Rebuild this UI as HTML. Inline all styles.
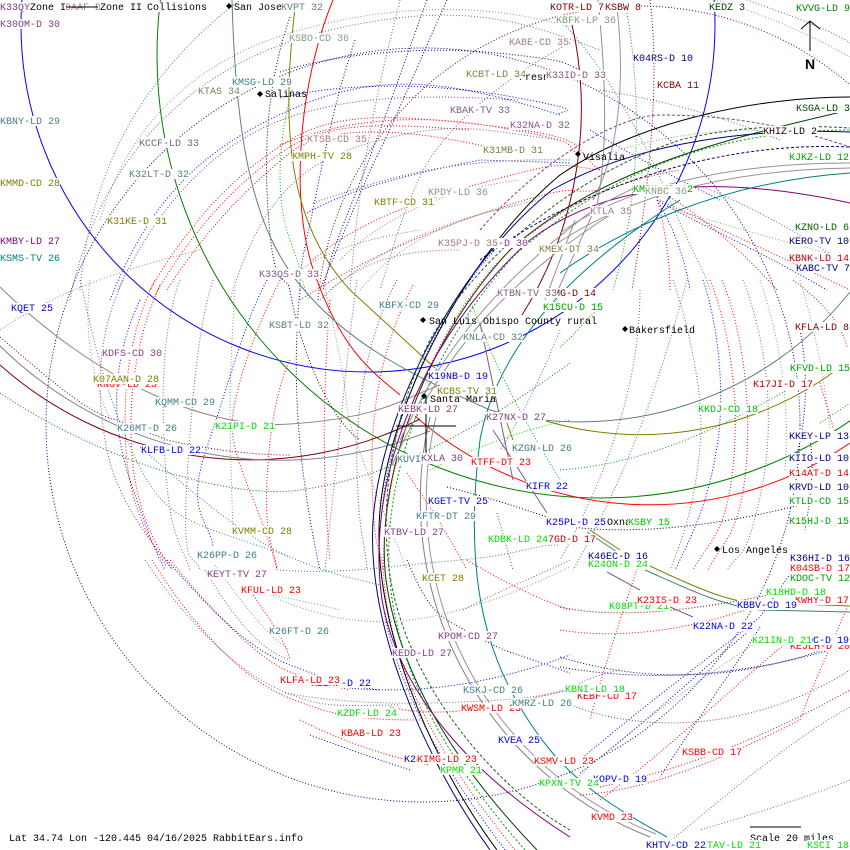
<!DOCTYPE html>
<html><head><meta charset="utf-8"><style>
html,body{margin:0;padding:0;background:#fff;}
svg{display:block;}
text{font-family:"Liberation Mono",monospace;font-size:10px;}
.d{fill:none;stroke-dasharray:1 2;stroke-width:1}
.s{fill:none;stroke-width:1}
rect.b{fill:#fff}
</style></head><body>
<svg width="850" height="850" viewBox="0 0 850 850" xmlns="http://www.w3.org/2000/svg">
<rect width="850" height="850" fill="#fff"/>

<circle cx="423" cy="425" r="377" class="d" stroke="#00007f"/>
<path class="d" stroke="#7f0000" d="M318,300 A322,322 0 0 1 850,85"/>

<path class="d" stroke="#3f7f7f" d="M80,290 Q95,110 240,0"/>
<path class="d" stroke="#7f5f7f" d="M70,300 C100,150 200,60 330,30 S520,20 600,50"/>
<path class="d" stroke="#7f9f7f" d="M100,220 C130,120 200,60 290,33 S480,0 570,27"/>
<path class="d" stroke="#0000ff" d="M110,300 C150,200 200,150 290,110 S450,80 560,115"/>
<path class="d" stroke="#7f3f7f" d="M118,290 C160,200 220,140 290,117 S430,95 520,100"/>
<path class="d" stroke="#ff0000" d="M150,290 C190,220 240,170 290,140 S400,115 500,127 S570,150 600,170"/>
<path class="d" stroke="#ff0000" d="M155,295 C195,225 245,175 290,147 S400,125 470,130"/>
<path class="d" stroke="#ff0000" d="M167,290 C205,230 250,185 290,153 S420,130 500,150"/>
<path class="d" stroke="#000" d="M290,17 C275,60 262,120 268,210 S285,270 290,290 C300,350 330,420 360,440"/>
<path class="d" stroke="#00c000" d="M292,90 C278,140 275,200 290,240 S300,280 310,300"/>
<path class="d" stroke="#7f5f7f" d="M230,300 C260,200 300,160 380,140 S480,130 560,140"/>
<path class="d" stroke="#9f7f7f" d="M0,330 C60,290 120,270 200,250"/>
<path class="d" stroke="#7f9f7f" d="M360,290 C400,240 460,215 540,200"/>
<path class="d" stroke="#9f7f7f" d="M340,260 C380,220 440,190 520,180"/>
<path class="d" stroke="#7f5f7f" d="M400,0 C380,80 360,160 350,290"/>

<path class="d" stroke="#00007f" d="M427,0 C405,60 385,120 357,190 S330,260 323,290"/>
<path class="d" stroke="#00007f" d="M447,0 C420,60 395,120 380,150 S345,230 320,290"/>
<path class="d" stroke="#00007f" d="M355,40 C335,100 325,150 315,200 S300,260 300,290"/>
<path class="d" stroke="#7f5f7f" d="M570,43 C500,80 440,130 417,183 S390,260 380,290"/>
<path class="d" stroke="#ff0000" d="M313,260 C360,220 420,200 493,180 S560,165 600,170"/>
<path class="d" stroke="#0000ff" d="M307,213 C340,195 380,180 480,160 L570,163"/>
<path class="d" stroke="#7f3f7f" d="M313,203 C380,180 447,157 570,160"/>
<path class="d" stroke="#ff0000" d="M300,300 C330,280 400,240 493,210 S560,195 600,190"/>
<path class="d" stroke="#7f9f7f" d="M330,290 C380,250 440,220 520,205"/>
<path class="d" stroke="#00007f" d="M280,72 C330,55 420,45 497,53 S560,62 580,70"/>
<path class="d" stroke="#0000ff" d="M280,98 C330,85 420,80 513,97 S550,110 560,115"/>
<path class="d" stroke="#ff0000" d="M280,145 C330,125 400,110 497,127 S560,145 580,155"/>
<path class="d" stroke="#9f7f7f" d="M300,270 C330,250 360,240 420,230"/>
<path class="d" stroke="#7f5f7f" d="M320,300 C360,260 400,250 460,250"/>

<path class="d" stroke="#7f9f7f" d="M717,0 C780,20 820,40 850,57"/>
<path class="d" stroke="#7f5f7f" d="M747,0 C790,15 830,30 850,43"/>
<path class="d" stroke="#7f0000" d="M650,0 C660,80 650,180 632,290"/>
<path class="d" stroke="#009f00" d="M627,13 C642,100 640,200 613,290"/>
<path class="d" stroke="#3f7f7f" d="M560,20 C600,60 640,130 670,200 S700,260 710,290"/>
<path class="d" stroke="#ff0000" d="M660,200 C700,220 760,247 850,290"/>
<path class="d" stroke="#0000ff" d="M657,200 C690,220 753,247 827,290"/>
<path class="d" stroke="#7f5f7f" d="M703,187 C760,210 810,240 850,267"/>
<path class="d" stroke="#ff0000" d="M670,197 C720,230 750,260 777,290"/>
<path class="d" stroke="#7f9f7f" d="M677,210 C740,230 800,245 850,260"/>
<path class="d" stroke="#ff0000" d="M657,197 C665,230 670,260 670,290"/>
<path class="d" stroke="#0000ff" d="M657,200 C675,230 685,260 690,290"/>
<path class="d" stroke="#7f5f7f" d="M600,90 C660,100 720,115 780,140"/>
<path class="d" stroke="#0000ff" d="M590,130 C640,160 680,180 720,200"/>
<path class="d" stroke="#7f9f7f" d="M590,160 C640,140 700,130 760,130"/>

<path class="d" stroke="#7f5f7f" d="M673,280 C690,330 705,400 700,447 S690,520 670,570"/>
<path class="d" stroke="#0000ff" d="M703,280 C720,330 725,400 717,447 S700,520 675,570"/>
<path class="d" stroke="#ff0000" d="M710,280 C730,330 740,400 733,467 S710,540 693,570"/>
<path class="d" stroke="#ff0000" d="M722,280 C742,330 752,400 746,467 S724,540 708,570"/>
<path class="d" stroke="#7f5f7f" d="M743,280 C770,350 775,430 760,497 S740,550 727,570"/>
<path class="d" stroke="#7f9f7f" d="M800,280 C815,330 825,380 830,430"/>
<path class="d" stroke="#3f7f7f" d="M687,280 C660,380 630,470 573,570"/>
<path class="d" stroke="#7f5f7f" d="M640,290 C640,380 610,470 560,560"/>
<path class="d" stroke="#ff0000" d="M793,280 C820,300 840,320 847,347"/>
<path class="d" stroke="#ff0000" d="M820,383 L833,427"/>
<path class="d" stroke="#009f00" d="M560,470 C630,465 700,440 787,390"/>
<path class="d" stroke="#009f00" d="M560,347 C575,335 585,320 597,310"/>
<path class="d" stroke="#009f00" d="M820,423 L850,403"/>
<path class="d" stroke="#00007f" d="M800,330 C810,380 805,430 795,460"/>
<path class="d" stroke="#0000ff" d="M810,440 C815,470 810,500 805,530"/>
<path class="d" stroke="#7f9f7f" d="M760,280 C780,340 790,400 785,470"/>

<path class="d" stroke="#0000ff" d="M140,300 C112,360 110,420 130,480 S155,550 165,570"/>
<path class="d" stroke="#ff0000" d="M155,280 C130,330 122,390 126,450 S150,540 167,567"/>
<path class="d" stroke="#ff0000" d="M160,285 C135,340 128,400 132,455 S155,545 172,570"/>
<path class="d" stroke="#7f3f7f" d="M123,280 C100,330 95,380 105,440 S150,540 173,570"/>
<path class="d" stroke="#3f7f7f" d="M80,280 C92,330 100,380 133,453 S190,520 290,557"/>
<path class="d" stroke="#7f9f7f" d="M90,280 C85,320 88,370 110,420"/>
<path class="d" stroke="#0000ff" d="M267,280 C245,320 230,380 207,447 S210,520 213,547"/>
<path class="d" stroke="#ff0000" d="M280,280 C260,320 240,370 233,413 S260,500 277,570"/>
<path class="d" stroke="#ff0000" d="M290,360 C280,380 270,420 267,480 S275,550 277,570"/>
<path class="d" stroke="#7f5f7f" d="M213,280 C200,320 193,380 187,480 S195,550 200,570"/>
<path class="d" stroke="#7f5f7f" d="M180,280 C165,320 160,380 165,460 S180,540 190,570"/>
<path class="d" stroke="#7f9f7f" d="M235,290 C232,330 230,380 230,413 S232,500 233,533"/>
<path class="d" stroke="#7f0000" d="M0,337 C50,380 90,415 117,420 L167,440 C220,452 260,455 290,455"/>
<path class="d" stroke="#007f00" d="M0,393 C100,460 230,500 300,490 S450,450 570,363"/>
<path class="d" stroke="#3f7f7f" d="M140,447 C200,500 250,540 290,557 S340,575 380,585"/>

<path class="d" stroke="#7f5f7f" d="M145,560 C185,620 235,670 280,690 S340,705 400,705"/>
<path class="d" stroke="#ff0000" d="M152,560 C195,630 245,680 287,697 S350,720 420,720"/>
<path class="d" stroke="#0000ff" d="M167,560 C210,610 250,650 290,665 S340,685 380,690"/>
<path class="d" stroke="#ff0000" d="M170,560 C220,620 260,660 290,672 S330,685 350,690"/>
<path class="d" stroke="#7f5f7f" d="M205,570 C235,620 260,650 290,660"/>
<path class="d" stroke="#7f9f7f" d="M215,565 C240,600 270,640 290,650"/>
<path class="d" stroke="#ff0000" d="M250,590 C270,620 285,640 290,660"/>
<path class="d" stroke="#7f9f7f" d="M270,595 C300,600 320,605 340,610"/>

<path class="d" stroke="#3f7f7f" d="M280,570 C340,575 400,565 460,560 S530,545 560,545"/>
<path class="d" stroke="#7f9f7f" d="M280,600 C330,620 380,630 447,613 S540,580 570,567"/>
<path class="d" stroke="#00007f" d="M407,560 C420,590 430,610 447,620 S500,650 513,653 L570,673"/>
<path class="d" stroke="#ff0000" d="M467,560 C500,580 540,600 570,610"/>
<path class="d" stroke="#7f5f7f" d="M463,610 C500,590 540,575 570,560"/>
<path class="d" stroke="#0000ff" d="M340,687 Q450,700 570,655"/>
<path class="d" stroke="#ff0000" d="M390,707 C450,722 520,700 570,690"/>
<path class="d" stroke="#7f5f7f" d="M285,693 C350,705 420,705 500,700 S570,680 620,670"/>
<path class="d" stroke="#ff0000" d="M300,720 C340,740 380,755 430,765"/>
<path class="d" stroke="#0000ff" d="M310,735 C350,750 380,760 410,770"/>
<path class="d" stroke="#ff0000" d="M407,473 C425,500 440,520 467,570"/>
<path class="d" stroke="#7f3f7f" d="M497,513 L513,570"/>
<path class="d" stroke="#000" d="M447,487 C500,500 540,515 580,528 C660,535 740,520 800,505"/>

<path class="d" stroke="#00007f" d="M560,657 Q700,700 850,640"/>
<path class="d" stroke="#00007f" d="M560,667 Q690,690 830,650"/>
<path class="d" stroke="#7f3f7f" d="M560,700 C620,730 740,740 850,670"/>
<path class="d" stroke="#7f5f7f" d="M660,850 C720,800 790,740 850,707"/>
<path class="d" stroke="#ff0000" d="M600,787 C680,770 760,740 850,690"/>
<path class="d" stroke="#ff0000" d="M580,795 C650,790 720,760 800,720"/>
<path class="d" stroke="#0000ff" d="M580,760 C650,700 720,650 760,617 L800,560"/>
<path class="d" stroke="#00007f" d="M580,773 C650,720 700,670 747,633"/>
<path class="d" stroke="#7f9f7f" d="M575,780 C640,720 700,680 760,640"/>
<path class="d" stroke="#ff0000" d="M600,800 C680,740 740,680 790,640"/>
<path class="d" stroke="#7f0000" d="M560,607 C620,620 700,610 793,590"/>
<path class="d" stroke="#ff0000" d="M560,630 C620,640 700,630 770,600"/>
<path class="d" stroke="#00007f" d="M760,627 C740,660 710,700 660,777"/>
<path class="d" stroke="#ff0000" d="M850,600 C830,650 810,690 800,720"/>
<path class="d" stroke="#7f5f7f" d="M850,780 C800,800 750,815 700,830"/>
<path class="d" stroke="#ff0000" d="M640,560 C620,620 600,680 590,720"/>

<path class="d" stroke="#7f3f7f" d="M397,280 C370,330 355,400 357,470 S365,540 367,570"/>
<path class="d" stroke="#ff0000" d="M413,285 C385,340 370,400 372,480 S380,540 383,570"/>
<path class="d" stroke="#7f9f7f" d="M323,280 C335,330 345,380 347,407 S380,500 407,570"/>
<path class="d" stroke="#7f5f7f" d="M357,280 C350,330 345,380 340,430 S330,520 325,570"/>
<path class="d" stroke="#00007f" d="M300,290 C292,370 296,460 320,570"/>
<path class="d" stroke="#ff0000" d="M330,300 C325,370 320,450 330,560"/>
<path class="d" stroke="#009f00" d="M470,300 C500,380 530,430 560,480"/>
<path class="d" stroke="#00df00" d="M430,470 C470,450 520,430 570,420"/>
<path class="d" stroke="#3f7f7f" d="M560,330 C540,380 520,420 500,450"/>

<circle cx="368" cy="25" r="347" class="s" stroke="#0000ff"/>
<circle cx="600" cy="55" r="443" class="s" stroke="#007f00"/>
<path class="s" stroke="#ff0000" d="M415,416 A355,355 0 0 0 850,443"/>
<path class="s" stroke="#5f7f7f" d="M490,410 A346,346 0 0 0 850,292"/>
<path class="s" stroke="#7f7f00" d="M520,412 A330,330 0 0 0 835,371"/>
<path class="s" stroke="#7f0000" stroke-width="1.5" d="M0,365 A376,376 0 0 0 420,419"/>
<path class="s" stroke="#7f7f9f" stroke-width="2" d="M0,346 A400,400 0 0 0 430,431"/>
<path class="s" stroke="#808080" stroke-width="2.5" d="M430,417 A362,362 0 0 0 650,837"/>
<path class="s" stroke="#9f8f9f" d="M436,417 A358,358 0 0 0 656,834"/>
<path class="s" stroke="#ff0000" d="M333,0 C300,80 288,200 315,275 S370,370 400,395"/>
<path class="s" stroke="#7f7f00" d="M295,8 C282,120 285,220 350,290 L435,368"/>
<path class="s" stroke="#5f7f7f" d="M232,0 C236,150 255,230 300,285 S400,370 490,410"/>
<path class="s" stroke="#9f7f7f" d="M0,287 C90,375 200,430 290,424 S400,400 440,385"/>
<path class="s" stroke="#7f0000" d="M572,25 C592,110 582,220 522,315"/>
<path class="s" stroke="#9f8f9f" d="M617,7 C625,80 620,150 593,200"/>

<path class="s" stroke="#003f00" d="M537,850 C460,770 400,680 386,580 C374,480 425,340 510,250 C600,170 720,140 850,110"/>
<path class="s" stroke="#009f00" stroke-dasharray="2 2" d="M525,850 C455,770 398,680 390,580 C380,480 430,345 515,255 C610,170 720,130 850,130"/>
<path class="d" stroke="#ff0000" d="M515,850 C450,770 392,680 384,580 C378,470 430,330 505,255 C560,205 620,180 680,170"/>
<path class="d" stroke="#0000ff" d="M505,850 C445,770 388,680 380,580 C372,470 420,330 495,250"/>
<path class="s" stroke="#000" d="M497,850 C430,760 370,620 380,510 C390,400 470,250 560,175 C640,120 760,97 850,97"/>
<path class="s" stroke="#00007f" d="M490,850 C425,760 362,620 374,510 C386,400 462,262 552,190 C640,140 760,128 850,132"/>
<path class="s" stroke="#7f007f" d="M570,837 C480,780 400,700 382,600 C365,480 420,340 530,240 C610,180 720,175 850,203"/>
<path class="s" stroke="#1f5f1f" stroke-width="2.5" stroke-dasharray="3 2" d="M570,830 C500,790 420,700 395,600 C375,520 390,420 430,340 C470,270 560,180 680,140 C740,125 800,125 850,128"/>
<path class="s" stroke="#7f3f7f" stroke-dasharray="3 2" d="M480,230 C540,160 620,115 660,115 C740,115 800,130 850,147"/>
<path class="s" stroke="#00007f" stroke-dasharray="3 2" d="M480,260 C560,200 700,140 850,147"/>
<path class="s" stroke="#9f8f8f" stroke-width="1.5" d="M560,233 C620,190 720,163 850,163"/>
<path class="s" stroke="#9f8f8f" stroke-width="1.5" d="M555,245 C620,200 720,170 850,168"/>
<path class="s" stroke="#007f7f" d="M560,273 C620,230 720,182 850,173"/>
<path class="s" stroke="#007f7f" d="M680,200 C600,250 500,330 480,440 C465,560 480,640 520,707 S600,800 667,837"/>

<path class="s" stroke="#8f8f8f" stroke-width="2" d="M400,440 C430,380 470,300 600,205"/>
<path class="s" stroke="#8f8f8f" stroke-width="2" d="M392,465 C440,360 500,285 610,215"/>
<path class="s" stroke="#8f8f8f" stroke-width="2" d="M598,0 C606,80 608,150 597,205"/>
<path class="s" stroke="#8f8f8f" stroke-width="2" d="M592,215 L558,290"/>
<path class="s" stroke="#8f8f8f" stroke-width="2" d="M575,220 L545,300"/>
<path class="s" stroke="#8f8f8f" stroke-width="2" d="M640,185 L600,205"/>

<path class="s" stroke="#7f5f7f" d="M480,323 L513,480"/>
<path class="s" stroke="#7f5f7f" d="M493,430 L547,513"/>
<path class="s" stroke="#7f7f00" d="M507,423 L513,440"/>
<path class="s" stroke="#3f7f7f" d="M645,570 C690,590 720,605 760,610 L850,612"/>
<path class="s" stroke="#7f7f00" d="M650,566 C690,585 720,598 745,602 L850,606"/>
<path class="s" stroke="#7f5f7f" d="M607,572 L640,590"/>
<path class="s" stroke="#7f5f7f" d="M670,607 L693,617"/>
<path class="s" stroke="#7f7f00" d="M590,530 L620,550"/>
<path class="s" stroke="#3f7f7f" d="M587,532 L617,552"/>

<path class="s" stroke="#000" d="M396,426 H456 M426,396 V458"/>

<path class="s" stroke="#000" d="M810,21 V51 M801,29 L810,21 L820,29"/>
<text x="805" y="69" font-weight="bold" font-size="14" fill="#000" style="font-family:'Liberation Sans',sans-serif;font-size:14px">N</text>

<path class="s" stroke="#000" d="M750,827 H801"/>

<g>
<rect class="b" x="0" y="2" width="60" height="10"/><text x="0" y="10" fill="#7f3f7f">K33QY-D 33</text>
<rect class="b" x="53" y="2" width="66" height="10"/><text x="53" y="10" fill="#9f7f7f">K19AAF-D 26</text>
<rect class="b" x="30" y="2" width="36" height="10"/><text x="30" y="10" fill="#000">Zone I</text>
<path class="s" stroke="#000" d="M66,7 H98"/>
<rect class="b" x="100" y="2" width="42" height="10"/><text x="100" y="10" fill="#000">Zone II</text>
<rect class="b" x="147" y="2" width="60" height="10"/><text x="147" y="10" fill="#000">Collisions</text>
<path d="M229,3 l3,3 -3,3 -3,-3z" fill="#000"/>
<text x="234" y="10" fill="#000">San Jose</text>
<rect class="b" x="281" y="2" width="42" height="10"/><text x="281" y="10" fill="#5f7f7f">KVPT 32</text>
<rect class="b" x="550" y="2" width="54" height="10"/><text x="550" y="10" fill="#7f0000">KOTR-LD 7</text>
<rect class="b" x="605" y="2" width="36" height="10"/><text x="605" y="10" fill="#7f0000">KSBW 8</text>
<rect class="b" x="709" y="2" width="36" height="10"/><text x="709" y="10" fill="#003f00">KEDZ 3</text>
<rect class="b" x="796" y="3" width="54" height="10"/><text x="796" y="11" fill="#007f00">KVVG-LD 9</text>
<rect class="b" x="0" y="19" width="60" height="10"/><text x="0" y="27" fill="#7f3f7f">K30OM-D 30</text>
<rect class="b" x="556" y="15" width="60" height="10"/><text x="556" y="23" fill="#7f9f7f">KBFK-LP 36</text>
<rect class="b" x="289" y="33" width="60" height="10"/><text x="289" y="41" fill="#7f9f7f">KSBO-CD 36</text>
<rect class="b" x="509" y="37" width="60" height="10"/><text x="509" y="45" fill="#9f7f7f">KABE-CD 35</text>
<rect class="b" x="633" y="53" width="60" height="10"/><text x="633" y="61" fill="#00007f">K04RS-D 10</text>
<text x="519" y="80" fill="#000">Fresno</text>
<rect class="b" x="466" y="69" width="60" height="10"/><text x="466" y="77" fill="#7f7f3f">KCBT-LD 34</text>
<rect class="b" x="546" y="70" width="60" height="10"/><text x="546" y="78" fill="#7f5f7f">K33ID-D 33</text>
<rect class="b" x="232" y="77" width="60" height="10"/><text x="232" y="85" fill="#3f7f7f">KMSG-LD 29</text>
<rect class="b" x="657" y="80" width="42" height="10"/><text x="657" y="88" fill="#7f0000">KCBA 11</text>
<rect class="b" x="198" y="86" width="42" height="10"/><text x="198" y="94" fill="#7f7f5f">KTAS 34</text>
<path d="M260,91 l3,3 -3,3 -3,-3z" fill="#000"/>
<text x="265" y="97" fill="#000">Salinas</text>
<rect class="b" x="796" y="103" width="54" height="10"/><text x="796" y="111" fill="#003f00">KSGA-LD 3</text>
<rect class="b" x="450" y="105" width="60" height="10"/><text x="450" y="113" fill="#7f5f7f">KBAK-TV 33</text>
<rect class="b" x="0" y="116" width="60" height="10"/><text x="0" y="124" fill="#3f7f7f">KBNY-LD 29</text>
<rect class="b" x="510" y="120" width="60" height="10"/><text x="510" y="128" fill="#7f5f7f">K32NA-D 32</text>
<rect class="b" x="763" y="126" width="54" height="10"/><text x="763" y="134" fill="#1f0000">KHIZ-LD 2</text>
<rect class="b" x="307" y="134" width="60" height="10"/><text x="307" y="142" fill="#9f7f7f">KTSB-CD 35</text>
<rect class="b" x="139" y="138" width="60" height="10"/><text x="139" y="146" fill="#7f5f7f">KCCF-LD 33</text>
<rect class="b" x="483" y="145" width="60" height="10"/><text x="483" y="153" fill="#7f7f3f">K31MB-D 31</text>
<rect class="b" x="292" y="151" width="60" height="10"/><text x="292" y="159" fill="#7f7f00">KMPH-TV 28</text>
<path d="M578,151 l3,3 -3,3 -3,-3z" fill="#000"/>
<text x="583" y="160" fill="#000">Visalia</text>
<rect class="b" x="789" y="152" width="61" height="10"/><text x="789" y="160" fill="#009f00">KJKZ-LD 12</text>
<rect class="b" x="129" y="169" width="60" height="10"/><text x="129" y="177" fill="#5f7f7f">K32LT-D 32</text>
<rect class="b" x="0" y="178" width="60" height="10"/><text x="0" y="186" fill="#7f7f00">KMMD-CD 28</text>
<rect class="b" x="633" y="184" width="60" height="10"/><text x="633" y="192" fill="#009f00">KMPH-CD 12</text>
<rect class="b" x="645" y="186" width="42" height="10"/><text x="645" y="194" fill="#7f9f7f">KNBC 36</text>
<rect class="b" x="428" y="187" width="60" height="10"/><text x="428" y="195" fill="#7f9f7f">KPDY-LD 36</text>
<rect class="b" x="374" y="197" width="60" height="10"/><text x="374" y="205" fill="#7f7f00">KBTF-CD 31</text>
<rect class="b" x="590" y="206" width="42" height="10"/><text x="590" y="214" fill="#9f7f7f">KTLA 35</text>
<rect class="b" x="107" y="216" width="60" height="10"/><text x="107" y="224" fill="#7f7f00">K31KE-D 31</text>
<rect class="b" x="795" y="222" width="55" height="10"/><text x="795" y="230" fill="#005f00">KZNO-LD 6</text>
<rect class="b" x="0" y="236" width="60" height="10"/><text x="0" y="244" fill="#7f007f">KMBY-LD 27</text>
<rect class="b" x="789" y="236" width="61" height="10"/><text x="789" y="244" fill="#00007f">KERO-TV 10</text>
<rect class="b" x="468" y="238" width="60" height="10"/><text x="468" y="246" fill="#7f3f7f">K30RZ-D 30</text>
<rect class="b" x="438" y="238" width="60" height="10"/><text x="438" y="246" fill="#9f7f7f">K35PJ-D 35</text>
<rect class="b" x="539" y="244" width="60" height="10"/><text x="539" y="252" fill="#7f7f3f">KMEX-DT 34</text>
<rect class="b" x="0" y="253" width="60" height="10"/><text x="0" y="261" fill="#007f7f">KSMS-TV 26</text>
<rect class="b" x="796" y="263" width="54" height="10"/><text x="796" y="271" fill="#00007f">KABC-TV 7</text>
<rect class="b" x="789" y="253" width="61" height="10"/><text x="789" y="261" fill="#bf0000">KBNK-LD 14</text>
<rect class="b" x="259" y="269" width="60" height="10"/><text x="259" y="277" fill="#7f5f7f">K33QS-D 33</text>
<rect class="b" x="542" y="288" width="54" height="10"/><text x="542" y="296" fill="#7f0000">KPMG-D 14</text>
<rect class="b" x="497" y="288" width="60" height="10"/><text x="497" y="296" fill="#7f5f7f">KTBN-TV 33</text>
<rect class="b" x="379" y="300" width="60" height="10"/><text x="379" y="308" fill="#3f7f7f">KBFX-CD 29</text>
<rect class="b" x="11" y="303" width="42" height="10"/><text x="11" y="311" fill="#0000e0">KQET 25</text>
<rect class="b" x="543" y="302" width="60" height="10"/><text x="543" y="310" fill="#009f00">K15CU-D 15</text>
<path d="M423,317 l3,3 -3,3 -3,-3z" fill="#000"/>
<text x="429" y="324" fill="#000">San Luis Obispo County rural</text>
<rect class="b" x="269" y="320" width="60" height="10"/><text x="269" y="328" fill="#5f7f7f">KSBT-LD 32</text>
<rect class="b" x="795" y="322" width="55" height="10"/><text x="795" y="330" fill="#7f0000">KFLA-LD 8</text>
<path d="M625,326 l3,3 -3,3 -3,-3z" fill="#000"/>
<text x="629" y="333" fill="#000">Bakersfield</text>
<rect class="b" x="463" y="332" width="60" height="10"/><text x="463" y="340" fill="#5f7f7f">KNLA-CD 32</text>
<rect class="b" x="102" y="348" width="60" height="10"/><text x="102" y="356" fill="#7f3f7f">KDFS-CD 30</text>
<rect class="b" x="790" y="363" width="60" height="10"/><text x="790" y="371" fill="#009f00">KFVD-LD 15</text>
<rect class="b" x="428" y="371" width="60" height="10"/><text x="428" y="379" fill="#0000e0">K19NB-D 19</text>
<rect class="b" x="97" y="379" width="60" height="10"/><text x="97" y="387" fill="#ff0000">KNGV-LD 23</text>
<rect class="b" x="93" y="374" width="66" height="10"/><text x="93" y="382" fill="#7f7f00">K07AAN-D 28</text>
<rect class="b" x="753" y="379" width="60" height="10"/><text x="753" y="387" fill="#bf0000">K17JI-D 17</text>
<rect class="b" x="437" y="386" width="60" height="10"/><text x="437" y="394" fill="#7f7f00">KCBS-TV 31</text>
<path d="M424,393 l3,3 -3,3 -3,-3z" fill="#000"/>
<text x="430" y="402" fill="#000">Santa Maria</text>
<rect class="b" x="155" y="397" width="60" height="10"/><text x="155" y="405" fill="#3f7f7f">KQMM-CD 29</text>
<rect class="b" x="398" y="404" width="60" height="10"/><text x="398" y="412" fill="#7f3f7f">KEBK-LD 27</text>
<rect class="b" x="698" y="404" width="60" height="10"/><text x="698" y="412" fill="#00bf00">KKDJ-CD 18</text>
<rect class="b" x="486" y="412" width="60" height="10"/><text x="486" y="420" fill="#7f3f7f">K27NX-D 27</text>
<rect class="b" x="215" y="421" width="60" height="10"/><text x="215" y="429" fill="#00df00">K21PI-D 21</text>
<rect class="b" x="117" y="423" width="60" height="10"/><text x="117" y="431" fill="#3f7f7f">K26MT-D 26</text>
<rect class="b" x="789" y="431" width="61" height="10"/><text x="789" y="439" fill="#00007f">KKEY-LP 13</text>
<rect class="b" x="512" y="443" width="60" height="10"/><text x="512" y="451" fill="#3f7f7f">KZGN-LD 26</text>
<rect class="b" x="141" y="445" width="60" height="10"/><text x="141" y="453" fill="#0000e0">KLFB-LD 22</text>
<rect class="b" x="397" y="454" width="60" height="10"/><text x="397" y="462" fill="#3f7f7f">KUVI-DT 45</text>
<rect class="b" x="421" y="453" width="42" height="10"/><text x="421" y="461" fill="#7f3f7f">KXLA 30</text>
<rect class="b" x="789" y="453" width="61" height="10"/><text x="789" y="461" fill="#00007f">KIIO-LD 10</text>
<rect class="b" x="471" y="457" width="60" height="10"/><text x="471" y="465" fill="#ff0000">KTFF-DT 23</text>
<rect class="b" x="789" y="468" width="61" height="10"/><text x="789" y="476" fill="#df0000">K14AT-D 14</text>
<rect class="b" x="526" y="481" width="42" height="10"/><text x="526" y="489" fill="#0000e0">KIFR 22</text>
<rect class="b" x="789" y="482" width="61" height="10"/><text x="789" y="490" fill="#00007f">KRVD-LD 10</text>
<rect class="b" x="428" y="496" width="60" height="10"/><text x="428" y="504" fill="#0000e0">KGET-TV 25</text>
<rect class="b" x="789" y="496" width="61" height="10"/><text x="789" y="504" fill="#009f00">KTLD-CD 15</text>
<rect class="b" x="416" y="511" width="60" height="10"/><text x="416" y="519" fill="#3f7f7f">KFTR-DT 29</text>
<rect class="b" x="789" y="516" width="61" height="10"/><text x="789" y="524" fill="#009f00">K15HJ-D 15</text>
<text x="607" y="525" fill="#000">Oxnard</text>
<rect class="b" x="546" y="517" width="60" height="10"/><text x="546" y="525" fill="#0000e0">K25PL-D 25</text>
<rect class="b" x="628" y="517" width="42" height="10"/><text x="628" y="525" fill="#00bf00">KSBY 15</text>
<rect class="b" x="384" y="527" width="60" height="10"/><text x="384" y="535" fill="#7f3f7f">KTBV-LD 27</text>
<rect class="b" x="232" y="526" width="60" height="10"/><text x="232" y="534" fill="#7f7f00">KVMM-CD 28</text>
<rect class="b" x="536" y="534" width="60" height="10"/><text x="536" y="542" fill="#bf0000">K17GD-D 17</text>
<rect class="b" x="488" y="534" width="60" height="10"/><text x="488" y="542" fill="#00df00">KDBK-LD 24</text>
<path d="M717,546 l3,3 -3,3 -3,-3z" fill="#000"/>
<text x="722" y="553" fill="#000">Los Angeles</text>
<rect class="b" x="197" y="550" width="60" height="10"/><text x="197" y="558" fill="#3f7f7f">K26PP-D 26</text>
<rect class="b" x="588" y="551" width="60" height="10"/><text x="588" y="559" fill="#00007f">K46EC-D 16</text>
<rect class="b" x="588" y="559" width="60" height="10"/><text x="588" y="567" fill="#00df00">K24ON-D 24</text>
<rect class="b" x="790" y="553" width="60" height="10"/><text x="790" y="561" fill="#00007f">K36HI-D 16</text>
<rect class="b" x="790" y="573" width="60" height="10"/><text x="790" y="581" fill="#009f00">KDOC-TV 12</text>
<rect class="b" x="790" y="563" width="60" height="10"/><text x="790" y="571" fill="#ff0000">K04SB-D 17</text>
<rect class="b" x="207" y="569" width="60" height="10"/><text x="207" y="577" fill="#7f3f7f">KEYT-TV 27</text>
<rect class="b" x="422" y="573" width="42" height="10"/><text x="422" y="581" fill="#7f7f00">KCET 28</text>
<rect class="b" x="241" y="585" width="60" height="10"/><text x="241" y="593" fill="#ff0000">KFUL-LD 23</text>
<rect class="b" x="795" y="595" width="55" height="10"/><text x="795" y="603" fill="#ff0000">KWHY-D 17</text>
<rect class="b" x="766" y="587" width="60" height="10"/><text x="766" y="595" fill="#00df00">K18HD-D 18</text>
<rect class="b" x="609" y="601" width="60" height="10"/><text x="609" y="609" fill="#00df00">K08PT-D 21</text>
<rect class="b" x="637" y="595" width="60" height="10"/><text x="637" y="603" fill="#ff0000">K23IS-D 23</text>
<rect class="b" x="737" y="600" width="60" height="10"/><text x="737" y="608" fill="#0000e0">KBBV-CD 19</text>
<rect class="b" x="693" y="621" width="60" height="10"/><text x="693" y="629" fill="#0000e0">K22NA-D 22</text>
<rect class="b" x="269" y="626" width="60" height="10"/><text x="269" y="634" fill="#3f7f7f">K26FT-D 26</text>
<rect class="b" x="438" y="631" width="60" height="10"/><text x="438" y="639" fill="#7f3f7f">KPOM-CD 27</text>
<rect class="b" x="790" y="641" width="60" height="10"/><text x="790" y="649" fill="#ff0000">KEJLH-D 20</text>
<rect class="b" x="789" y="635" width="61" height="10"/><text x="789" y="643" fill="#0000e0">K19OC-D 19</text>
<rect class="b" x="752" y="635" width="60" height="10"/><text x="752" y="643" fill="#00df00">K21IN-D 21</text>
<rect class="b" x="392" y="648" width="60" height="10"/><text x="392" y="656" fill="#7f3f7f">KEDD-LD 27</text>
<rect class="b" x="311" y="678" width="60" height="10"/><text x="311" y="686" fill="#0000e0">K22MF-D 22</text>
<rect class="b" x="280" y="675" width="60" height="10"/><text x="280" y="683" fill="#ff0000">KLFA-LD 23</text>
<rect class="b" x="577" y="691" width="60" height="10"/><text x="577" y="699" fill="#ff0000">KEBF-CD 17</text>
<rect class="b" x="565" y="684" width="60" height="10"/><text x="565" y="692" fill="#00df00">KBNI-LD 18</text>
<rect class="b" x="463" y="685" width="60" height="10"/><text x="463" y="693" fill="#3f7f7f">KSKJ-CD 26</text>
<rect class="b" x="461" y="703" width="60" height="10"/><text x="461" y="711" fill="#ff0000">KWSM-LD 23</text>
<rect class="b" x="512" y="698" width="60" height="10"/><text x="512" y="706" fill="#3f7f7f">KMRZ-LD 26</text>
<rect class="b" x="337" y="708" width="60" height="10"/><text x="337" y="716" fill="#00df00">KZDF-LD 24</text>
<rect class="b" x="341" y="728" width="60" height="10"/><text x="341" y="736" fill="#ff0000">KBAB-LD 23</text>
<rect class="b" x="498" y="735" width="42" height="10"/><text x="498" y="743" fill="#0000e0">KVEA 25</text>
<rect class="b" x="682" y="747" width="60" height="10"/><text x="682" y="755" fill="#ff0000">KSBB-CD 17</text>
<rect class="b" x="404" y="754" width="60" height="10"/><text x="404" y="762" fill="#0000e0">K28MJ-D 28</text>
<rect class="b" x="417" y="754" width="60" height="10"/><text x="417" y="762" fill="#ff0000">KIMG-LD 23</text>
<rect class="b" x="534" y="756" width="60" height="10"/><text x="534" y="764" fill="#ff0000">KSMV-LD 23</text>
<rect class="b" x="440" y="765" width="42" height="10"/><text x="440" y="773" fill="#00df00">KPMR 21</text>
<rect class="b" x="593" y="774" width="54" height="10"/><text x="593" y="782" fill="#0000e0">KOPV-D 19</text>
<rect class="b" x="539" y="778" width="60" height="10"/><text x="539" y="786" fill="#00df00">KPXN-TV 24</text>
<rect class="b" x="591" y="812" width="42" height="10"/><text x="591" y="820" fill="#ff0000">KVMD 23</text>
<text x="9" y="841" fill="#000">Lat 34.74 Lon -120.445 04/16/2025 RabbitEars.info</text>
<rect class="b" x="750" y="833" width="84" height="10"/><text x="750" y="841" fill="#000">Scale 20 miles</text>
<rect class="b" x="701" y="840" width="60" height="10"/><text x="701" y="848" fill="#00df00">KTAV-LD 21</text>
<rect class="b" x="646" y="840" width="60" height="10"/><text x="646" y="848" fill="#0000e0">KHTV-CD 22</text>
<rect class="b" x="807" y="840" width="43" height="10"/><text x="807" y="848" fill="#00df00">KSCI 18</text>
</g>
</svg>
</body></html>
